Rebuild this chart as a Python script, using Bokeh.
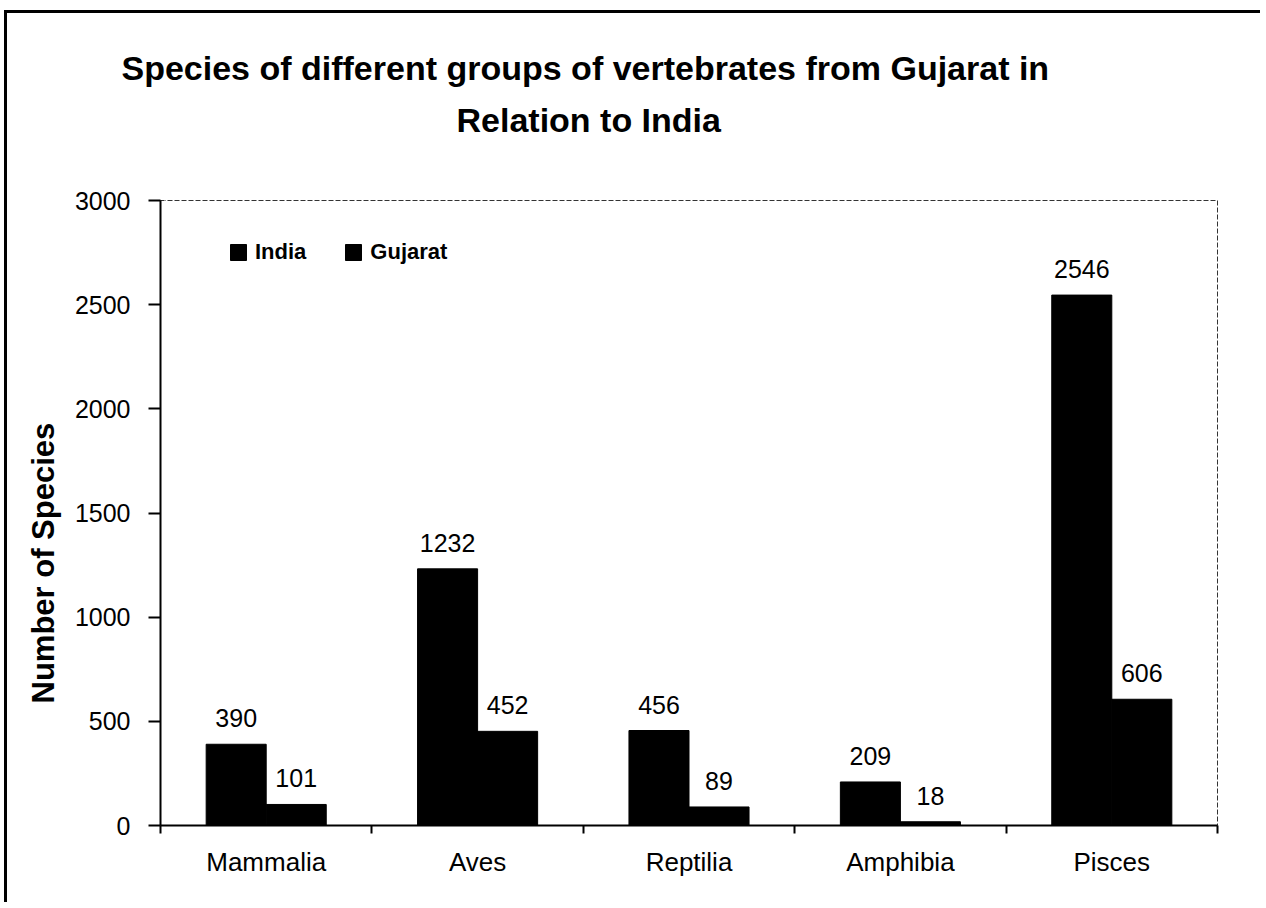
import math
from bokeh.plotting import figure
from bokeh.models import (ColumnDataSource, FixedTicker, Legend, LegendItem, Range1d, Title,
                          LinearAxis)
from bokeh.transform import dodge
from bokeh.core.properties import value
from bokeh.embed import file_html
from bokeh.resources import INLINE

# ---- data ----
categories = ["Mammalia", "Aves", "Reptilia", "Amphibia", "Pisces"]
india = [390, 1232, 456, 209, 2546]
gujarat = [101, 452, 89, 18, 606]
y_ticks = [0, 500, 1000, 1500, 2000, 2500, 3000]
series_names = ["India", "Gujarat"]
title_lines = ["Species of different groups of vertebrates from Gujarat in",
               "Relation to India"]
y_title = "Number of Species"

W, H = 1256, 892
FL, FR, FT, FB = 153, 46, 187, 80

p = figure(width=W, height=H, x_range=Range1d(0, len(categories)),
           y_range=Range1d(0, 3000), output_backend="svg", toolbar_location=None,
           min_border_left=FL, min_border_right=FR, min_border_top=FT,
           min_border_bottom=FB)
p.title.text = ""
p.xgrid.visible = False
p.ygrid.visible = False
p.background_fill_color = "white"
p.border_fill_color = "white"
p.outline_line_color = "#333333"
p.outline_line_dash = "5 2"
p.outline_line_width = 1
p.styles = {"border-left": "3px solid black", "border-top": "3px solid black",
            "margin-left": "4px", "margin-top": "10px"}

bw = 0.284
xs = [i + 0.5 for i in range(len(categories))]
src = ColumnDataSource(dict(x=xs, india=india, gujarat=gujarat,
                            il=[str(v) for v in india], gl=[str(v) for v in gujarat]))

r1 = p.vbar(x=dodge("x", -bw / 2), top="india", width=bw, source=src,
            fill_color="black", line_color="black")
r2 = p.vbar(x=dodge("x", bw / 2), top="gujarat", width=bw, source=src,
            fill_color="black", line_color="black")

lab_font = value("Liberation Sans")
for xo, col in [(-bw / 2, "india"), (bw / 2, "gujarat")]:
    p.text(x=dodge("x", xo), y=col, text=("il" if col == "india" else "gl"), source=src,
           text_align="center", text_baseline="middle", y_offset=-26,
           text_font=lab_font, text_font_size="25px", text_color="black")

# y axis
ya = p.yaxis[0]
ya.ticker = FixedTicker(ticks=y_ticks)
ya.axis_line_width = 2
ya.axis_line_color = "black"
ya.major_tick_line_width = 2
ya.major_tick_out = 12
ya.major_tick_in = 0
ya.minor_tick_line_color = None
ya.major_label_standoff = 18
ya.major_label_text_font = "Liberation Sans"
ya.major_label_text_font_size = "25px"
ya.major_label_text_color = "black"

# x axis
xa = p.xaxis[0]
xa.ticker = FixedTicker(ticks=xs, minor_ticks=list(range(len(categories) + 1)))
xa.major_label_overrides = {x: c for x, c in zip(xs, categories)}
xa.axis_line_width = 2
xa.axis_line_color = "black"
xa.major_tick_line_color = None
xa.major_tick_out = 0
xa.major_tick_in = 0
xa.minor_tick_line_color = "black"
xa.minor_tick_line_width = 2
xa.minor_tick_out = 8
xa.minor_tick_in = 0
xa.major_label_standoff = 13
xa.major_label_text_font = "Liberation Sans"
xa.major_label_text_font_size = "26px"
xa.major_label_text_color = "black"

# legend
legend = Legend(items=[LegendItem(label=series_names[0], renderers=[r1]),
                       LegendItem(label=series_names[1], renderers=[r2])],
                orientation="horizontal", location=(68, 560), padding=0, margin=0,
                spacing=37, glyph_width=20, glyph_height=20, label_standoff=7,
                border_line_color=None, background_fill_alpha=0,
                label_text_font="Liberation Sans", label_text_font_style="bold",
                label_text_font_size="22px", label_text_color="black")
p.add_layout(legend, "center")

# blank spacer band between the frame and the two-line title
spacer = LinearAxis(ticker=FixedTicker(ticks=[0.02], minor_ticks=[]),
                    axis_line_color=None, major_tick_line_color="white",
                    minor_tick_line_color=None, major_tick_out=56, major_tick_in=0,
                    minor_tick_out=0, minor_tick_in=0, major_label_standoff=0,
                    major_label_overrides={0.02: ""}, major_label_text_font_size="0px")
p.add_layout(spacer, "above")

# titles (line nearest the frame first)
t2 = Title(text=title_lines[1], align="left", offset=296, standoff=12,
           text_font="Liberation Sans", text_font_style="bold",
           text_font_size="34px", text_color="black")
t1 = Title(text=title_lines[0], align="left", offset=-39, standoff=12,
           text_font="Liberation Sans", text_font_style="bold",
           text_font_size="34px", text_color="black")
p.add_layout(t2, "above")
p.add_layout(t1, "above")

ty = Title(text=y_title, align="left", offset=122, standoff=22,
           text_font="Liberation Sans", text_font_style="bold",
           text_font_size="31px", text_color="black")
p.add_layout(ty, "left")

open("out.html", "w").write(file_html(p, INLINE))
